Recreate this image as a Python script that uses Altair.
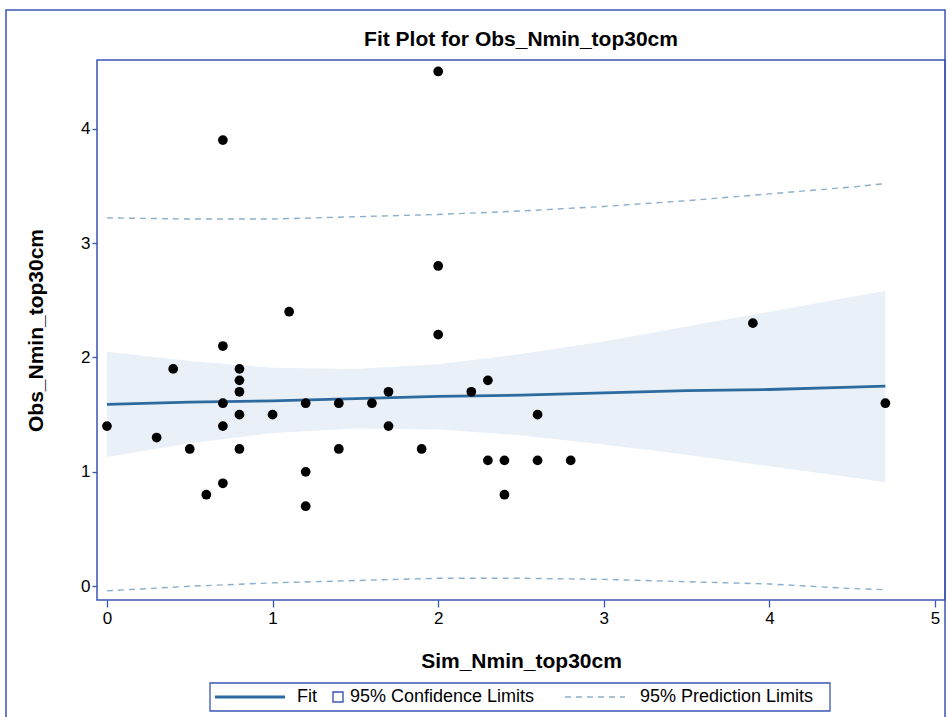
import altair as alt
import pandas as pd

sim = [0.0, 0.3, 0.4, 0.5, 0.6, 0.7, 0.7, 0.7, 0.7, 0.7, 0.8, 0.8, 0.8, 0.8, 0.8,
       1.0, 1.1, 1.2, 1.2, 1.2, 1.4, 1.4, 1.6, 1.7, 1.7, 1.9, 2.0, 2.0, 2.0, 2.2,
       2.3, 2.3, 2.4, 2.4, 2.6, 2.6, 2.8, 3.9, 4.7]
obs = [1.4, 1.3, 1.9, 1.2, 0.8, 3.9, 2.1, 1.6, 1.4, 0.9, 1.9, 1.8, 1.7, 1.5, 1.2,
       1.5, 2.4, 1.6, 1.0, 0.7, 1.6, 1.2, 1.6, 1.7, 1.4, 1.2, 4.5, 2.8, 2.2, 1.7,
       1.8, 1.1, 1.1, 0.8, 1.5, 1.1, 1.1, 2.3, 1.6]

# Fit line, confidence band and prediction limits
grid_x = [0.0, 0.5, 1.0, 1.5, 2.0, 2.5, 3.0, 3.5, 4.0, 4.5, 4.7]
fit_y = [1.59, 1.61, 1.62, 1.64, 1.66, 1.67, 1.69, 1.71, 1.72, 1.74, 1.75]
cl_upper = [2.05, 1.97, 1.91, 1.90, 1.94, 2.03, 2.14, 2.27, 2.40, 2.53, 2.58]
cl_lower = [1.13, 1.25, 1.34, 1.38, 1.37, 1.32, 1.24, 1.15, 1.05, 0.95, 0.91]
pl_upper = [3.22, 3.21, 3.21, 3.23, 3.25, 3.28, 3.32, 3.37, 3.43, 3.49, 3.52]
pl_lower = [-0.04, 0.00, 0.03, 0.05, 0.07, 0.07, 0.06, 0.04, 0.02, -0.02, -0.03]

x_ticks = [0, 1, 2, 3, 4, 5]
y_ticks = [0, 1, 2, 3, 4]

TITLE = "Fit Plot for Obs_Nmin_top30cm"
FONT = "Liberation Sans"
FRAME = "#3A56B5"
FIT = "#2D6A9F"
BAND = "#E9F0F7"
PRED = "#8DAECB"

pts = pd.DataFrame({"sim": sim, "obs": obs})
curves = pd.DataFrame({"x": grid_x, "fit": fit_y, "clu": cl_upper, "cll": cl_lower,
                       "plu": pl_upper, "pll": pl_lower})

xs = alt.Scale(domain=[-0.06, 5.06], nice=False, zero=False)
ys = alt.Scale(domain=[-0.12, 4.6], nice=False, zero=False)

xax = alt.Axis(values=x_ticks, title="Sim_Nmin_top30cm", grid=False, domain=False,
               tickColor=FRAME, tickSize=7, tickWidth=1.3, labelPadding=3,
               titlePadding=24, format="d")
yax = alt.Axis(values=y_ticks, title="Obs_Nmin_top30cm", grid=False, domain=False,
               tickColor=FRAME, tickSize=5, tickWidth=1.3, labelPadding=2,
               titlePadding=34, format="d")

base = alt.Chart(curves)

band = base.mark_area(color=BAND, opacity=1).encode(
    x=alt.X("x:Q", scale=xs, axis=xax),
    y=alt.Y("clu:Q", scale=ys, axis=yax),
    y2="cll:Q",
)
pu = base.mark_line(color=PRED, strokeDash=[6, 5], strokeWidth=1.4).encode(
    x=alt.X("x:Q", scale=xs), y=alt.Y("plu:Q", scale=ys))
pl = base.mark_line(color=PRED, strokeDash=[6, 5], strokeWidth=1.4).encode(
    x=alt.X("x:Q", scale=xs), y=alt.Y("pll:Q", scale=ys))
fit = base.mark_line(color=FIT, strokeWidth=2.8).encode(
    x=alt.X("x:Q", scale=xs), y=alt.Y("fit:Q", scale=ys))

points = alt.Chart(pts).mark_circle(color="black", size=95, opacity=1).encode(
    x=alt.X("sim:Q", scale=xs), y=alt.Y("obs:Q", scale=ys))

one = alt.Data(values=[{"k": 1}])

outer = alt.Chart(one).mark_rect(fillOpacity=0, stroke=FRAME, strokeWidth=1.5).encode(
    x=alt.value(-91), x2=alt.value(848), y=alt.value(-50), y2=alt.value(662))

title = alt.Chart(one).mark_text(font=FONT, fontSize=21, fontWeight="bold",
                                 align="center", baseline="middle", color="black").encode(
    x=alt.value(424), y=alt.value(-20), text=alt.value(TITLE))

txt = dict(font=FONT, fontSize=18, align="left", baseline="middle", color="black")
leg_box = alt.Chart(one).mark_rect(fill="white", stroke=FRAME, strokeWidth=1.3).encode(
    x=alt.value(113), x2=alt.value(733), y=alt.value(623), y2=alt.value(651))
leg_fit = alt.Chart(one).mark_rule(color=FIT, strokeWidth=3).encode(
    x=alt.value(118), x2=alt.value(188), y=alt.value(637))
leg_fit_t = alt.Chart(one).mark_text(**txt).encode(
    x=alt.value(200), y=alt.value(637), text=alt.value("Fit"))
leg_sq = alt.Chart(one).mark_point(shape="square", size=100, filled=False,
                                   stroke=FRAME, strokeWidth=1.4, opacity=1).encode(
    x=alt.value(241), y=alt.value(637))
leg_cl_t = alt.Chart(one).mark_text(**txt).encode(
    x=alt.value(253), y=alt.value(637), text=alt.value("95% Confidence Limits"))
leg_pl = alt.Chart(one).mark_rule(color=PRED, strokeWidth=1.4, strokeDash=[6, 5]).encode(
    x=alt.value(468), x2=alt.value(528), y=alt.value(637))
leg_pl_t = alt.Chart(one).mark_text(**txt).encode(
    x=alt.value(543), y=alt.value(637), text=alt.value("95% Prediction Limits"))

chart = alt.layer(
    band, pu, pl, fit, points, outer, title,
    leg_box, leg_fit, leg_fit_t, leg_sq, leg_cl_t, leg_pl, leg_pl_t,
).properties(
    width=848, height=540,
    background="white",
    autosize=alt.AutoSizeParams(type="none"),
    padding={"left": 97, "top": 60, "right": 5, "bottom": 117},
).configure_view(
    stroke=FRAME, strokeWidth=1.5
).configure_axis(
    labelFont=FONT, labelFontSize=17, labelColor="black",
    titleFont=FONT, titleFontSize=21, titleFontWeight="bold", titleColor="black",
)

chart.save("out.html", embed_options={"renderer": "svg", "actions": False})
